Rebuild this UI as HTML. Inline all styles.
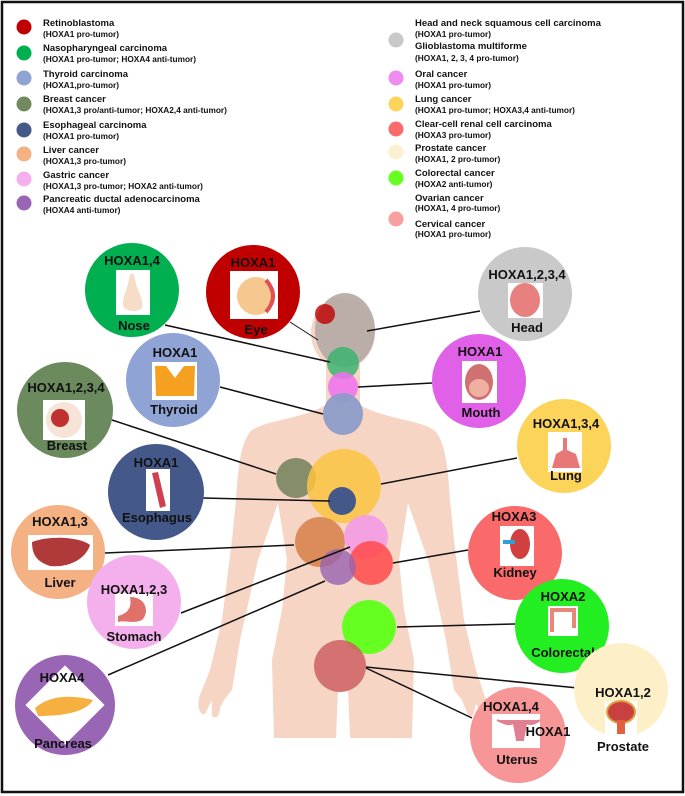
<!DOCTYPE html>
<html><head><meta charset="utf-8"><style>
body{margin:0;background:#fff}
svg{display:block;font-family:"Liberation Sans",Arial,sans-serif}
.t{font-size:9.5px;font-weight:bold;fill:#111}
.s{font-size:8.3px;font-weight:bold;fill:#111}
.L{font-size:13px;font-weight:bold;fill:#111;text-anchor:middle}
</style></head><body>
<svg width="685" height="796" viewBox="0 0 685 796">
<rect x="2" y="2" width="681" height="790" fill="#fff" stroke="#111" stroke-width="2.5"/>
<g>
<circle cx="24" cy="27" r="7.5" fill="#c00000"/><text class="t" x="43" y="26">Retinoblastoma</text><text class="s" x="43" y="37">(HOXA1 pro-tumor)</text>
<circle cx="24" cy="53" r="7.5" fill="#00b050"/><text class="t" x="43" y="51">Nasopharyngeal carcinoma</text><text class="s" x="43" y="62">(HOXA1 pro-tumor; HOXA4 anti-tumor)</text>
<circle cx="24" cy="78" r="7.5" fill="#8fa3d4"/><text class="t" x="43" y="77">Thyroid carcinoma</text><text class="s" x="43" y="88">(HOXA1,pro-tumor)</text>
<circle cx="24" cy="104" r="7.5" fill="#70895e"/><text class="t" x="43" y="102">Breast cancer</text><text class="s" x="43" y="113">(HOXA1,3 pro/anti-tumor; HOXA2,4 anti-tumor)</text>
<circle cx="24" cy="130" r="7.5" fill="#44598a"/><text class="t" x="43" y="128">Esophageal carcinoma</text><text class="s" x="43" y="139">(HOXA1 pro-tumor)</text>
<circle cx="24" cy="154" r="7.5" fill="#f4b183"/><text class="t" x="43" y="153">Liver cancer</text><text class="s" x="43" y="164">(HOXA1,3 pro-tumor)</text>
<circle cx="24" cy="179" r="7.5" fill="#f4b0ec"/><text class="t" x="43" y="178">Gastric cancer</text><text class="s" x="43" y="189">(HOXA1,3 pro-tumor; HOXA2 anti-tumor)</text>
<circle cx="24" cy="203" r="7.5" fill="#9966b6"/><text class="t" x="43" y="202">Pancreatic ductal adenocarcinoma</text><text class="s" x="43" y="213">(HOXA4 anti-tumor)</text>
</g>
<g>
<text class="t" x="415" y="26">Head and neck squamous cell carcinoma</text><text class="s" x="415" y="37">(HOXA1 pro-tumor)</text>
<circle cx="396" cy="40" r="7.5" fill="#c9c9c9"/><text class="t" x="415" y="49">Glioblastoma multiforme</text><text class="s" x="415" y="61">(HOXA1, 2, 3, 4 pro-tumor)</text>
<circle cx="396" cy="78" r="7.5" fill="#f08cf0"/><text class="t" x="415" y="77">Oral cancer</text><text class="s" x="415" y="88">(HOXA1 pro-tumor)</text>
<circle cx="396" cy="104" r="7.5" fill="#fcd45a"/><text class="t" x="415" y="102">Lung cancer</text><text class="s" x="415" y="113">(HOXA1 pro-tumor; HOXA3,4 anti-tumor)</text>
<circle cx="396" cy="129" r="7.5" fill="#fa6a6a"/><text class="t" x="415" y="127">Clear-cell renal cell carcinoma</text><text class="s" x="415" y="138">(HOXA3 pro-tumor)</text>
<circle cx="396" cy="152" r="7.5" fill="#fdf0d0"/><text class="t" x="415" y="151">Prostate cancer</text><text class="s" x="415" y="162">(HOXA1, 2 pro-tumor)</text>
<circle cx="396" cy="178" r="7.5" fill="#66ff22"/><text class="t" x="415" y="176">Colorectal cancer</text><text class="s" x="415" y="187">(HOXA2 anti-tumor)</text>
<text class="t" x="415" y="201">Ovarian cancer</text><text class="s" x="415" y="211">(HOXA1, 4 pro-tumor)</text>
<circle cx="396" cy="219" r="7.5" fill="#f8a0a0"/><text class="t" x="415" y="227">Cervical cancer</text><text class="s" x="415" y="237">(HOXA1 pro-tumor)</text>
</g>
<g fill="#f6d5c5">
<ellipse cx="343" cy="333" rx="32" ry="36"/>
<rect x="326" y="355" width="34" height="65"/>
<path d="M326 405 C300 420 262 420 250 432 C240 445 238 470 236 500 L232 540 L222 620 L210 670 L200 695 C196 705 200 716 205 714 L212 700 L212 716 C216 720 220 715 220 708 L224 700 L232 690 L240 640 L258 560 L278 503 L287 560 L282 610 L272 660 L274 738 L336 738 L338 690 L348 690 L350 738 L412 738 L414 660 L404 610 L399 560 L408 503 L428 560 L446 640 L454 690 L462 700 L466 710 C468 718 474 718 474 712 L476 704 L482 714 C486 716 488 708 486 700 L476 670 L464 620 L454 540 L450 500 C448 470 446 445 436 432 C424 420 386 420 360 405 Z"/>
</g>
<g>
<ellipse cx="345" cy="330" rx="30" ry="37" fill="#b5a8a3" opacity="0.9"/>
<circle cx="325" cy="314" r="10" fill="#c00000" opacity="0.8"/>
<circle cx="343" cy="363" r="16" fill="#3cb370" opacity="0.85"/>
<circle cx="343" cy="387" r="15" fill="#ee70ee" opacity="0.85"/>
<ellipse cx="343" cy="414" rx="20" ry="21" fill="#8b9cc9" opacity="0.95"/>
<circle cx="296" cy="478" r="20" fill="#7a8560" opacity="0.9"/>
<ellipse cx="344" cy="486" rx="37" ry="37" fill="#fcc440" opacity="0.85"/>
<circle cx="342" cy="501" r="14" fill="#44598a"/>
<circle cx="320" cy="542" r="25" fill="#d8844e" opacity="0.9"/>
<circle cx="366" cy="537" r="22" fill="#f49be4" opacity="0.9"/>
<circle cx="371" cy="563" r="22" fill="#ff4a4a" opacity="0.85"/>
<circle cx="338" cy="567" r="18" fill="#9961ae" opacity="0.8"/>
<circle cx="369" cy="627" r="27" fill="#66ff22"/>
<circle cx="340" cy="666" r="26" fill="#cc6060" opacity="0.85"/>
</g>
<g stroke="#111" stroke-width="1.5" fill="none">
<line x1="165" y1="325" x2="330" y2="362"/>
<line x1="290" y1="322" x2="318" y2="340" stroke-width="1"/>
<line x1="480" y1="311" x2="367" y2="331"/>
<line x1="220" y1="387" x2="323" y2="414"/>
<line x1="432" y1="383" x2="358" y2="387"/>
<line x1="112" y1="420" x2="276" y2="474"/>
<line x1="517" y1="458" x2="381" y2="484"/>
<line x1="203" y1="498" x2="330" y2="501"/>
<line x1="105" y1="553" x2="294" y2="545"/>
<line x1="468" y1="550" x2="393" y2="563"/>
<line x1="181" y1="613" x2="350" y2="547"/>
<line x1="108" y1="675" x2="325" y2="581"/>
<line x1="515" y1="624" x2="397" y2="627"/>
<line x1="578" y1="688" x2="366" y2="667"/>
<line x1="472" y1="718" x2="366" y2="668"/>
</g>
<g>
<circle cx="132" cy="290" r="47" fill="#00b050"/>
<rect x="116" y="270" width="34" height="45" fill="#fff"/><path d="M130 274 C128 290 120 300 124 308 C130 312 138 312 142 308 C144 298 136 290 134 274Z" fill="#f7dcc8"/>
<text class="L" x="132" y="265">HOXA1,4</text><text class="L" x="134" y="330">Nose</text>

<circle cx="253" cy="292" r="47" fill="#c00000"/>
<rect x="230" y="271" width="48" height="48" fill="#fff"/><circle cx="256" cy="296" r="19" fill="#f6c890"/><path d="M266 280 Q280 296 266 312" stroke="#e05050" stroke-width="4" fill="none"/>
<text class="L" x="253" y="267">HOXA1</text><text class="L" x="256" y="334">Eye</text>

<circle cx="525" cy="294" r="47" fill="#c9c9c9"/>
<rect x="508" y="283" width="35" height="35" fill="#fff"/><ellipse cx="525" cy="300" rx="15" ry="17" fill="#e88080"/>
<text class="L" x="527" y="279">HOXA1,2,3,4</text><text class="L" x="527" y="332">Head</text>

<circle cx="173" cy="380" r="47" fill="#8fa3d4"/>
<rect x="152" y="362" width="45" height="38" fill="#fff"/><path d="M155 366 L166 366 L175 378 L184 366 L195 366 L194 396 L156 396Z" fill="#f5a020"/>
<text class="L" x="175" y="357">HOXA1</text><text class="L" x="174" y="414">Thyroid</text>

<circle cx="479" cy="381" r="47" fill="#e060e8"/>
<rect x="462" y="361" width="35" height="42" fill="#fff"/><ellipse cx="479" cy="382" rx="14" ry="18" fill="#d07070"/><ellipse cx="479" cy="388" rx="10" ry="9" fill="#f0b0a0"/>
<text class="L" x="480" y="356">HOXA1</text><text class="L" x="481" y="417">Mouth</text>

<circle cx="65" cy="410" r="48" fill="#6b8a5e"/>
<rect x="43" y="400" width="42" height="40" fill="#fff"/><ellipse cx="64" cy="420" rx="18" ry="18" fill="#f7e4d8"/><circle cx="60" cy="418" r="9" fill="#c03030"/>
<text class="L" x="66" y="392">HOXA1,2,3,4</text><text class="L" x="67" y="450">Breast</text>

<circle cx="156" cy="492" r="48" fill="#44598a"/>
<rect x="146" y="469" width="24" height="42" fill="#fff"/><path d="M152 473 L158 472 L166 506 L160 508Z" fill="#d04050"/>
<text class="L" x="156" y="467">HOXA1</text><text class="L" x="157" y="522">Esophagus</text>

<circle cx="564" cy="446" r="47" fill="#fcd45a"/>
<rect x="548" y="432" width="34" height="40" fill="#fff"/><path d="M563 438 L567 438 L567 450 L576 454 L580 468 L552 468 L556 454 L563 450Z" fill="#e87878"/>
<text class="L" x="566" y="428">HOXA1,3,4</text><text class="L" x="566" y="480">Lung</text>

<circle cx="58" cy="552" r="47" fill="#f4b183"/>
<rect x="28" y="535" width="65" height="35" fill="#fff"/><path d="M32 542 C50 535 80 537 90 545 C86 558 70 568 50 566 C38 562 32 556 32 542Z" fill="#b03a3a"/>
<text class="L" x="60" y="526">HOXA1,3</text><text class="L" x="60" y="587">Liver</text>

<circle cx="515" cy="553" r="47" fill="#fa6a6a"/>
<rect x="500" y="526" width="34" height="40" fill="#fff"/><ellipse cx="520" cy="544" rx="10" ry="15" fill="#d04040"/><rect x="503" y="540" width="12" height="4" fill="#2aa0d8"/>
<text class="L" x="514" y="521">HOXA3</text><text class="L" x="515" y="577">Kidney</text>

<circle cx="134" cy="602" r="47" fill="#f4b0ec"/>
<rect x="115" y="593" width="38" height="33" fill="#fff"/><path d="M130 597 C146 597 150 612 142 620 C134 624 125 620 118 622 L118 616 C128 613 132 608 130 597Z" fill="#e0706a"/>
<text class="L" x="134" y="594">HOXA1,2,3</text><text class="L" x="134" y="641">Stomach</text>

<circle cx="562" cy="626" r="47" fill="#22ee22"/>
<rect x="548" y="606" width="30" height="30" fill="#fff"/><path d="M552 632 L552 610 L574 610 L574 628" stroke="#e88878" stroke-width="4" fill="none"/>
<text class="L" x="563" y="601">HOXA2</text><text class="L" x="563" y="657">Colorectal</text>

<circle cx="65" cy="705" r="50" fill="#9966b6"/>
<rect x="37" y="677" width="56" height="56" fill="#fff" transform="rotate(45 65 705)"/>
<path d="M35 708 C48 696 70 694 93 700 C86 712 64 716 38 716Z" fill="#f5b040"/>
<text class="L" x="62" y="682">HOXA4</text><text class="L" x="63" y="748">Pancreas</text>

<circle cx="621" cy="690" r="47" fill="#fdf0c8"/>
<rect x="605" y="701" width="32" height="37" fill="#fff"/><ellipse cx="621" cy="712" rx="14" ry="11" fill="#c84040" stroke="#e0a040" stroke-width="2"/><rect x="617" y="720" width="8" height="14" fill="#e06040"/>
<text class="L" x="623" y="697">HOXA1,2</text><text class="L" x="623" y="751">Prostate</text>

<circle cx="518" cy="735" r="48" fill="#f79696"/>
<rect x="492" y="714" width="48" height="34" fill="#fff"/><path d="M497 720 C505 724 510 726 515 722 L525 722 C530 726 535 724 540 720 M514 724 L526 724 L523 740 L517 740Z" fill="#e08090" stroke="#e08090" stroke-width="2"/>
<text class="L" x="511" y="711">HOXA1,4</text><text class="L" x="548" y="736">HOXA1</text><text class="L" x="517" y="764">Uterus</text>
</g>
</svg>
</body></html>
